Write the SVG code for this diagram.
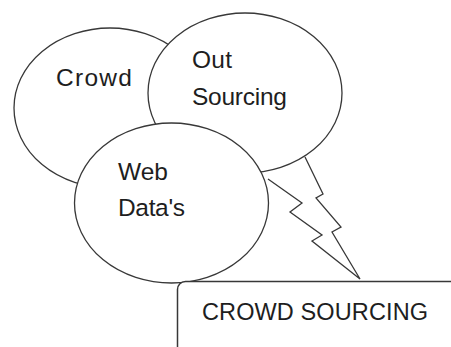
<svg xmlns="http://www.w3.org/2000/svg" width="451" height="347" viewBox="0 0 451 347">
<style>
.shape{fill:#fff;stroke:#383838;stroke-width:1.3}
.lbl{font-family:"Liberation Sans",Arial,sans-serif;font-size:24.5px;fill:#1e1e1e}
</style>
<rect width="451" height="347" fill="#fff"/>
<g id="connectors">
<polyline class="shape" points="305,157 323,194 316,198 341,227 332,232 360,279 312,241 322,235 290,212 302,203 268,179"/>
</g>
<g id="crowd">
<ellipse class="shape" cx="110" cy="108" rx="96" ry="80"/>
<text class="lbl" x="56" y="86" textLength="76">Crowd</text>
</g>
<g id="outsourcing">
<ellipse class="shape" cx="245" cy="93" rx="97" ry="80"/>
<text class="lbl" x="192" y="68" textLength="40">Out</text>
<text class="lbl" x="192" y="105" textLength="95">Sourcing</text>
</g>
<g id="webdata">
<ellipse class="shape" cx="171.5" cy="203" rx="97" ry="80"/>
<text class="lbl" x="118" y="179.5" textLength="50">Web</text>
<text class="lbl" x="118" y="216" textLength="67">Data's</text>
</g>
<g id="crowdsourcing">
<rect class="shape" x="177.5" y="281.5" width="300" height="100" rx="8" ry="8" style="stroke-width:1.5"/>
<text class="lbl" x="202" y="320" textLength="226" style="font-size:23.5px">CROWD SOURCING</text>
</g>
</svg>
